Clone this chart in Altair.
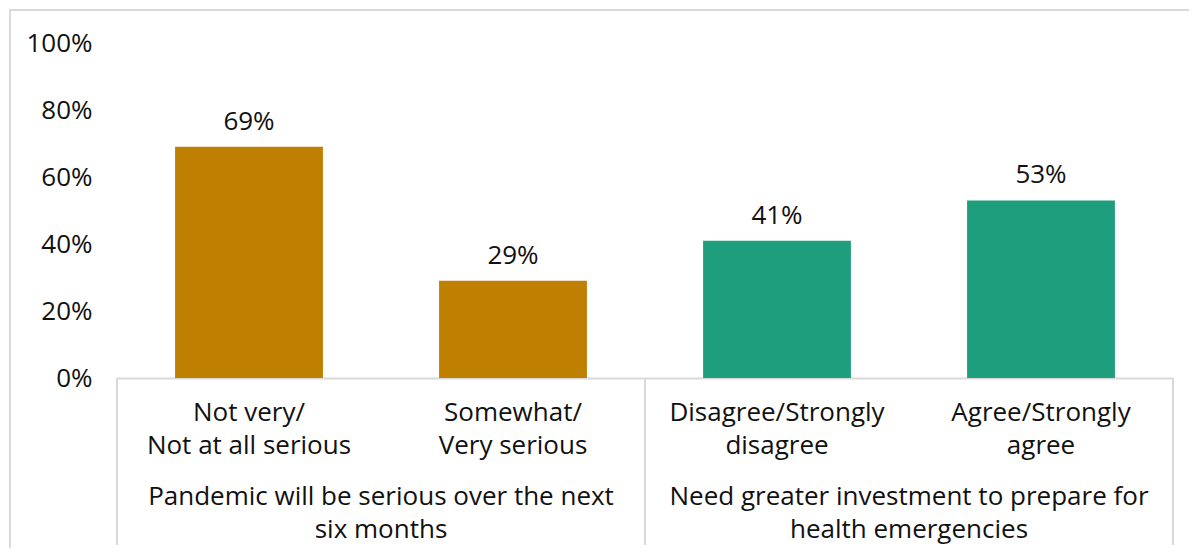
import altair as alt
import pandas as pd

categories = ["Not very/\nNot at all serious", "Somewhat/\nVery serious",
              "Disagree/Strongly\ndisagree", "Agree/Strongly\nagree"]
values = [0.69, 0.29, 0.41, 0.53]
value_labels = ["69%", "29%", "41%", "53%"]
groups = ["Pandemic will be serious over the next\nsix months",
          "Need greater investment to prepare for\nhealth emergencies"]
group_of = [groups[0], groups[0], groups[1], groups[1]]
colors = ["#BF7F00", "#1E9E7C"]
y_ticks = [0, 0.2, 0.4, 0.6, 0.8, 1.0]

FONT = "Open Sans"
FS = 26
TXT = "#111111"
GRID = "#D9D9D9"
W, H = 1056, 335

df = pd.DataFrame({"cat": categories, "value": values, "label": value_labels, "group": group_of})
grp_df = pd.DataFrame({"group": groups, "anchor": [categories[0], categories[2]]})
left_edges = pd.DataFrame({"cat": [categories[0], categories[2]]})
right_edges = pd.DataFrame({"cat": [categories[3]]})

xscale = alt.Scale(domain=categories, paddingInner=0, paddingOuter=0)
yscale = alt.Scale(domain=[0, 1])

base = alt.Chart(df)

bars = base.mark_bar(width={"band": 0.56}).encode(
    x=alt.X("cat:N", scale=xscale, sort=categories,
            axis=alt.Axis(labels=False, ticks=False, title=None, domainColor=GRID, domainWidth=2)),
    y=alt.Y("value:Q", scale=yscale,
            axis=alt.Axis(values=y_ticks, format=".0%", grid=False, domain=False, ticks=False,
                          tickSize=0, labelPadding=25, title=None, labelFont=FONT,
                          labelFontSize=FS, labelColor=TXT)),
    color=alt.Color("group:N", scale=alt.Scale(domain=groups, range=colors), legend=None),
)

bar_text = base.mark_text(font=FONT, fontSize=FS, color=TXT, baseline="alphabetic", dy=-17).encode(
    x=alt.X("cat:N", scale=xscale, sort=categories),
    y=alt.Y("value:Q", scale=yscale),
    text="label:N",
)

cat_text = base.mark_text(font=FONT, fontSize=FS, color=TXT, baseline="alphabetic",
                          lineBreak="\n", lineHeight=33).encode(
    x=alt.X("cat:N", scale=xscale, sort=categories),
    y=alt.value(378),
    text="cat:N",
)

grp_text = alt.Chart(grp_df).mark_text(font=FONT, fontSize=FS, color=TXT, baseline="alphabetic",
                                       lineBreak="\n", lineHeight=33).encode(
    x=alt.X("anchor:N", scale=xscale, sort=categories, bandPosition=1),
    y=alt.value(462),
    text="group:N",
)

rule_left = alt.Chart(left_edges).mark_rule(color=GRID, strokeWidth=2).encode(
    x=alt.X("cat:N", scale=xscale, sort=categories, bandPosition=0),
    y=alt.value(H), y2=alt.value(502),
)
rule_right = alt.Chart(right_edges).mark_rule(color=GRID, strokeWidth=2).encode(
    x=alt.X("cat:N", scale=xscale, sort=categories, bandPosition=1),
    y=alt.value(H), y2=alt.value(502),
)

frame = alt.Chart(grp_df).mark_rect(fill=None, stroke=GRID, strokeWidth=2).encode(
    x=alt.value(-107), x2=alt.value(1300), y=alt.value(-33), y2=alt.value(700),
)

chart = alt.layer(frame, bars, bar_text, cat_text, grp_text, rule_left, rule_right).properties(
    width=W, height=H,
    autosize=alt.AutoSizeParams(type="none"),
    padding={"left": 109, "top": 35, "right": 16, "bottom": 170},
).configure(
    background="white",
    view=alt.ViewConfig(stroke="transparent", strokeWidth=0),
)

chart.save("out.html", embed_options={"renderer": "svg", "actions": False})
